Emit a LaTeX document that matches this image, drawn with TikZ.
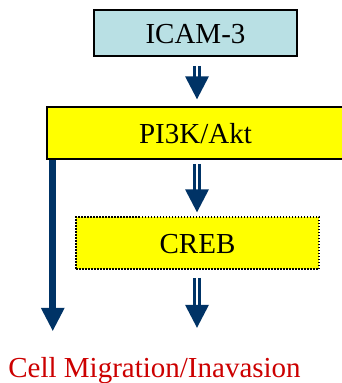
\documentclass[tikz,border=0pt]{standalone}
\usepackage{fontspec}
\setmainfont{Liberation Serif}
\usetikzlibrary{calc}
\definecolor{navy}{RGB}{0,51,102}
\definecolor{boxblue}{RGB}{185,224,228}
\definecolor{boxyellow}{RGB}{255,255,0}
\definecolor{redtext}{RGB}{204,0,0}
\newcommand\myfont{\fontsize{29}{30}\selectfont}
\tikzset{
  boxnode/.style={draw=black, line width=1.5, inner sep=0, font=\myfont,
    text height=20, text depth=0},
  dshaft/.style={draw=navy, line width=3.3},
  headfill/.style={fill=navy},
  thickshaft/.style={draw=navy, line width=7},
}
% #1 start, #2 tip
\newcommand\dblarr[2]{%
  \draw[dshaft] ($(#1)+(-2.7,0)$) -- ($(#2)+(-2.7,-21)$);
  \draw[dshaft] ($(#1)+(2.7,0)$) -- ($(#2)+(2.7,-21)$);
  \fill[headfill] ($(#2)+(-12,-23)$) -- ($(#2)+(12,-23)$) -- (#2) -- cycle;
}
\begin{document}
\begin{tikzpicture}[x=1pt,y=-1pt]
\useasboundingbox (0,0) rectangle (342,383);
\node[boxnode, fill=boxblue, minimum width=203, minimum height=46] (icam) at (195.5,33) {ICAM-3};
\node[boxnode, fill=boxyellow, minimum width=297, minimum height=52] (pi3k) at (195.5,133) {PI3K/Akt};
\node[boxnode, fill=boxyellow, dash pattern=on 1.5pt off 1.5pt, minimum width=243, minimum height=52] (creb) at (197.5,243) {CREB};
\node[font=\myfont, text=redtext, anchor=base, inner sep=0] (out) at (154.5,377) {Cell Migration/Inavasion};
% arrow ICAM -> PI3K
\coordinate (s1) at ($(icam.south)+(1.5,9)$);
\coordinate (t1) at ($(pi3k.north)+(1.5,-7)$);
\dblarr{s1}{t1}
% arrow PI3K -> CREB
\coordinate (s2) at ($(pi3k.south)+(1.5,4)$);
\coordinate (t2) at ($(creb.north)+(-0.5,-4)$);
\dblarr{s2}{t2}
% arrow CREB -> outcome
\coordinate (s3) at ($(creb.south)+(-0.5,8)$);
\coordinate (t3) at ($(creb.south)+(-0.5,58)$);
\dblarr{s3}{t3}
% left thick arrow PI3K -> outcome
\coordinate (ls) at ($(pi3k.south west)+(6.5,0)$);
\coordinate (lt) at ($(pi3k.south west)+(6.5,171)$);
\draw[thickshaft] (ls) -- ($(lt)+(0,-21)$);
\fill[headfill] ($(lt)+(-12,-23)$) -- ($(lt)+(12,-23)$) -- (lt) -- cycle;
\end{tikzpicture}
\end{document}
